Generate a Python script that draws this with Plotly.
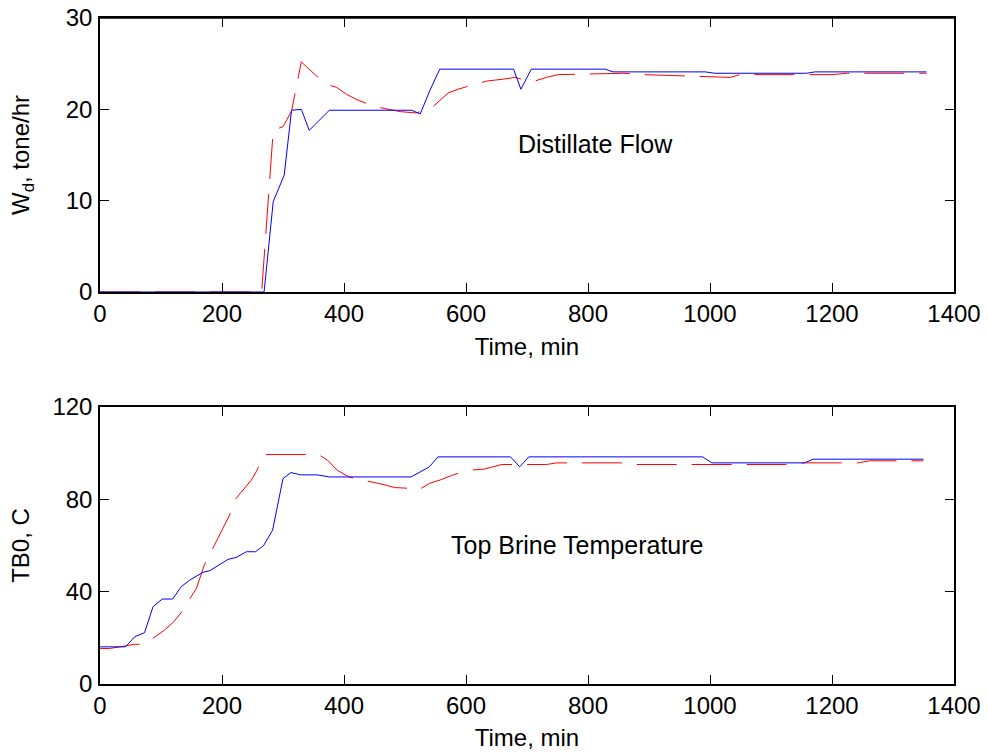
import plotly.graph_objects as go

# ---- Distillate flow (top panel) ----
t_wd_blue = [0, 269, 284, 302, 314, 330, 343, 376, 511, 525, 541, 557, 678, 690, 707,
             828, 841, 992, 1008, 1158, 1172, 1355]
wd_blue = [0, 0, 9.9, 12.8, 19.9, 20.0, 17.7, 19.9, 19.9, 19.5, 22.1, 24.4, 24.4, 22.2, 24.4,
           24.4, 24.1, 24.1, 23.95, 23.95, 24.1, 24.1]

t_wd_red = [0, 265, 284, 300, 314, 330, 341, 361, 374, 388, 404, 423, 451, 492, 519, 546,
            571, 587, 607, 634, 661, 680, 708, 732, 751, 858, 891, 1033, 1049, 1200, 1225, 1355]
wd_red = [0, 0, 17.7, 18.1, 19.8, 25.2, 24.5, 23.3, 22.7, 22.4, 21.65, 21.0, 20.3, 19.75, 19.6, 20.3,
          21.8, 22.2, 22.6, 23.1, 23.3, 23.5, 23.0, 23.5, 23.8, 23.95, 23.8, 23.5, 23.8, 23.8, 23.95, 23.95]

# ---- Top brine temperature (bottom panel) ----
t_tb_blue = [0, 42, 57, 73, 87, 102, 119, 133, 147, 169, 180, 196, 210, 223, 240, 255, 268, 283,
             300, 313, 329, 356, 376, 510, 540, 554, 673, 688, 703, 988, 1003, 1155, 1169, 1350]
tb_blue = [16.1, 16.1, 20.5, 22.2, 33.5, 36.8, 36.8, 42.1, 45, 48.4, 49.1, 51.7, 54, 54.8, 57.3,
           57.3, 59.9, 66.7, 89, 91.6, 90.6, 90.6, 89.7, 89.7, 94.1, 98.4, 98.4, 94.1, 98.4, 98.4,
           95.8, 95.8, 97.4, 97.4]

t_tb_red = [0, 16, 42, 57, 73, 95, 106, 120, 133, 144, 158, 171, 188, 199, 211, 223, 234, 248, 256,
            269, 358, 373, 389, 408, 430, 457, 484, 512, 522, 540, 560, 578, 604, 630, 659, 732,
            749, 869, 878, 1124, 1155, 1243, 1261, 1350]
tb_red = [15.4, 15.4, 16.5, 17.2, 17.2, 21.2, 23.4, 26.7, 30.9, 35.6, 41.4, 51.5, 60.2, 65.9, 72.4,
          80.4, 84, 88.3, 91.9, 99.4, 99.4, 97, 92.6, 89.7, 88.3, 86.9, 85.1, 84.7, 84, 86.9, 88.6,
          90.5, 92.6, 93.1, 95.1, 95.1, 95.8, 95.8, 95.1, 95.1, 95.8, 95.8, 96.7, 96.7]

x_ticks = [0, 200, 400, 600, 800, 1000, 1200, 1400]
wd_ticks = [0, 10, 20, 30]
tb_ticks = [0, 40, 80, 120]

FONT = "Liberation Sans, Arial, sans-serif"
BLUE = "#0000FF"
RED = "#FF0000"
DASH = "40px,15px"

fig = go.Figure()
fig.add_trace(go.Scatter(x=t_wd_red, y=wd_red, mode="lines",
                         line=dict(color=RED, width=1, dash=DASH), xaxis="x", yaxis="y"))
fig.add_trace(go.Scatter(x=t_wd_blue, y=wd_blue, mode="lines",
                         line=dict(color=BLUE, width=1), xaxis="x", yaxis="y"))
fig.add_trace(go.Scatter(x=t_tb_red, y=tb_red, mode="lines",
                         line=dict(color=RED, width=1, dash=DASH), xaxis="x2", yaxis="y2"))
fig.add_trace(go.Scatter(x=t_tb_blue, y=tb_blue, mode="lines",
                         line=dict(color=BLUE, width=1), xaxis="x2", yaxis="y2"))

ax_common = dict(showline=True, linecolor="black", linewidth=1.5, mirror="allticks",
                 ticks="inside", ticklen=9, tickwidth=1, tickcolor="black",
                 showgrid=False, zeroline=False, automargin=False,
                 ticklabeloverflow="allow",
                 tickfont=dict(family=FONT, size=24, color="black"))

fig.update_layout(
    width=988, height=755,
    paper_bgcolor="white", plot_bgcolor="white",
    showlegend=False,
    margin=dict(l=100, r=34, t=18, b=71),
    font=dict(family=FONT, size=24, color="black"),
    xaxis=dict(domain=[0, 1], anchor="y", range=[0, 1400], tickvals=x_ticks, ticklabelstandoff=-1,
               title=dict(text="Time, min", font=dict(family=FONT, size=24), standoff=13),
               **ax_common),
    yaxis=dict(domain=[0.5886, 1.0], anchor="x", range=[0, 30], tickvals=wd_ticks, ticklabelstandoff=1,
               title=dict(text="W<sub>d</sub>, tone/hr", font=dict(family=FONT, size=24), standoff=29),
               **ax_common),
    xaxis2=dict(domain=[0, 1], anchor="y2", range=[0, 1400], tickvals=x_ticks, ticklabelstandoff=-1,
                title=dict(text="Time, min", font=dict(family=FONT, size=24), standoff=12),
                **ax_common),
    yaxis2=dict(domain=[0, 0.4159], anchor="x2", range=[0, 120], tickvals=tb_ticks, ticklabelstandoff=1,
                title=dict(text="TB0, C", font=dict(family=FONT, size=24), standoff=16),
                **ax_common),
    shapes=[
        # top edge of the upper axes box, in paper coordinates (not clipped to the subplot)
        dict(type="line", xref="paper", yref="paper", x0=0, x1=1, y0=1, y1=1,
             line=dict(color="black", width=1.5), layer="above"),
    ],
    annotations=[
        dict(text="Distillate Flow", x=813, y=16.2, xref="x", yref="y", showarrow=False,
             xanchor="center", yanchor="middle", font=dict(family=FONT, size=25, color="black")),
        dict(text="Top Brine Temperature", x=782, y=60.2, xref="x2", yref="y2", showarrow=False,
             xanchor="center", yanchor="middle", font=dict(family=FONT, size=25, color="black")),
    ],
)

# remove the browser's default 8px body margin so the figure sits at the page's top-left corner
fig.write_html("out.html",
               config={"displayModeBar": False},
               post_script="document.body.style.margin='0px'; document.body.style.overflow='hidden';")
